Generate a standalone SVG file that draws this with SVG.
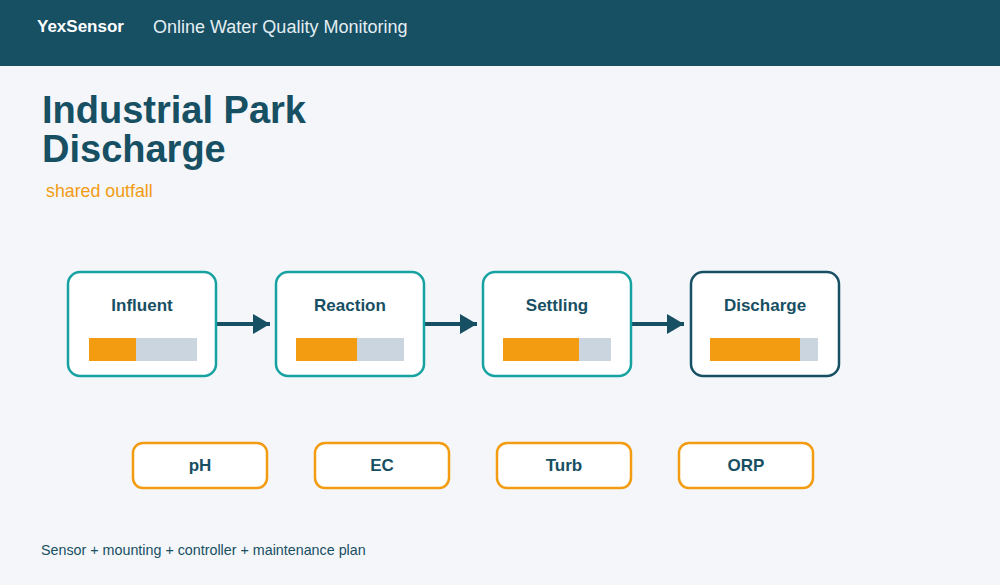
<svg xmlns="http://www.w3.org/2000/svg" width="1000" height="585" viewBox="0 0 1000 585">
<defs>
<marker id="ah" markerWidth="17" markerHeight="20" refX="17" refY="10" orient="auto" markerUnits="userSpaceOnUse">
<path d="M0,0 L17,10 L0,20 Z" fill="#174f63"/>
</marker>
<style>
text{font-family:"Liberation Sans",Arial,sans-serif}
.stage{fill:#ffffff;stroke:#17a2a2;stroke-width:2.5}
.stage.last{stroke:#174f63}
.lbl{font-size:17px;font-weight:bold;fill:#174f63;text-anchor:middle}
.bg{fill:#cbd5e0}
.fg{fill:#f39c12}
.pill{fill:#ffffff;stroke:#f39c12;stroke-width:2.5}
.conn{stroke:#174f63;stroke-width:4;fill:none}
</style>
</defs>
<rect x="0" y="0" width="1000" height="585" fill="#f4f6fa"/>
<rect x="0" y="0" width="1000" height="66" fill="#174f63"/>
<text x="37" y="32" font-size="17" font-weight="bold" fill="#ffffff">YexSensor</text>
<text x="153" y="33" font-size="18" fill="#e3eef2">Online Water Quality Monitoring</text>
<text x="42" y="123" font-size="38" font-weight="bold" fill="#174f63">Industrial Park</text>
<text x="42" y="162" font-size="38" font-weight="bold" fill="#174f63">Discharge</text>
<text x="46" y="197" font-size="17.8" fill="#f39c12">shared outfall</text>
<g id="connectors">
<line class="conn" x1="217" y1="324" x2="270" y2="324" marker-end="url(#ah)"/>
<line class="conn" x1="425" y1="324" x2="477" y2="324" marker-end="url(#ah)"/>
<line class="conn" x1="632" y1="324" x2="684" y2="324" marker-end="url(#ah)"/>
</g>
<g id="influent">
<rect class="stage" x="68" y="272" width="148" height="104" rx="12"/>
<text class="lbl" x="142" y="311">Influent</text>
<rect class="bg" x="89" y="338" width="108" height="23"/>
<rect class="fg" x="89" y="338" width="47" height="23"/>
</g>
<g id="reaction">
<rect class="stage" x="276" y="272" width="148" height="104" rx="12"/>
<text class="lbl" x="350" y="311">Reaction</text>
<rect class="bg" x="296" y="338" width="108" height="23"/>
<rect class="fg" x="296" y="338" width="61" height="23"/>
</g>
<g id="settling">
<rect class="stage" x="483" y="272" width="148" height="104" rx="12"/>
<text class="lbl" x="557" y="311">Settling</text>
<rect class="bg" x="503" y="338" width="108" height="23"/>
<rect class="fg" x="503" y="338" width="76" height="23"/>
</g>
<g id="discharge">
<rect class="stage last" x="691" y="272" width="148" height="104" rx="12"/>
<text class="lbl" x="765" y="311">Discharge</text>
<rect class="bg" x="710" y="338" width="108" height="23"/>
<rect class="fg" x="710" y="338" width="90" height="23"/>
</g>
<g id="ph">
<rect class="pill" x="133" y="443" width="134" height="45" rx="10"/>
<text class="lbl" x="200" y="471">pH</text>
</g>
<g id="ec">
<rect class="pill" x="315" y="443" width="134" height="45" rx="10"/>
<text class="lbl" x="382" y="471">EC</text>
</g>
<g id="turb">
<rect class="pill" x="497" y="443" width="134" height="45" rx="10"/>
<text class="lbl" x="564" y="471">Turb</text>
</g>
<g id="orp">
<rect class="pill" x="679" y="443" width="134" height="45" rx="10"/>
<text class="lbl" x="746" y="471">ORP</text>
</g>
<text x="41" y="555" font-size="14.3" fill="#174f63">Sensor + mounting + controller + maintenance plan</text>
</svg>
